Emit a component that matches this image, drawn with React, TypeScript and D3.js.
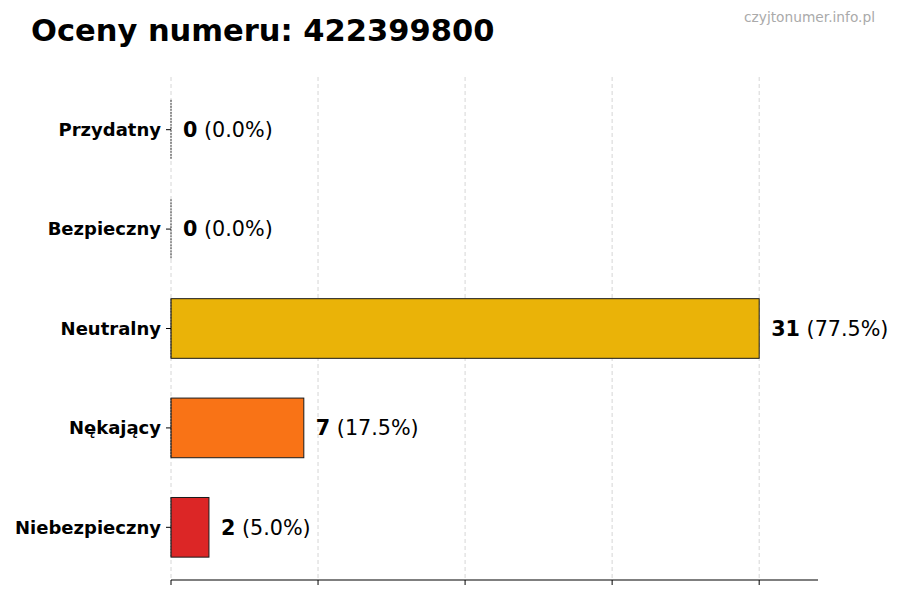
import React from "react";
import * as d3 from "d3";

const categories = ["Niebezpieczny", "Nękający", "Neutralny", "Bezpieczny", "Przydatny"];
const counts = [2, 7, 31, 0, 0];
const percents = ["5.0%", "17.5%", "77.5%", "0.0%", "0.0%"];
const colors = ["#DC2626", "#F97316", "#EAB308", "#3B82F6", "#22C55E"];
const titleText = "Oceny numeru: 422399800";
const watermark = "czyjtonumer.info.pl";

const W = 900, H = 600;
const left = 171, right = 818, top = 77, bottom = 580;

export default function App() {
  const maxV = d3.max(counts) as number;
  const x = d3.scaleLinear().domain([0, maxV * 1.1]).range([left, right]);
  const y = d3.scaleLinear().domain([-0.53, categories.length - 1 + 0.53]).range([bottom, top]);
  const ticks = [0, 0.25, 0.5, 0.75, 1].map((f) => f * maxV);
  const bh = y(0) - y(0.6);
  const font = "DejaVu Sans, sans-serif";
  return (
    <svg width={W} height={H} style={{ position: "absolute", left: 0, top: 0, background: "#fff" }} fontFamily={font}>
      <rect width={W} height={H} fill="#fff" />
      <text x={31} y={41} fontSize={30.5} fontWeight="bold" fill="#000">{titleText}</text>
      <text x={875} y={22} fontSize={14} fill="#aaaaaa" textAnchor="end" textLength={131} lengthAdjust="spacingAndGlyphs">{watermark}</text>
      {ticks.map((t, i) => (
        <g key={i}>
          <line x1={x(t)} x2={x(t)} y1={top} y2={bottom} stroke="#cccccc" strokeWidth={0.8} strokeDasharray="4,3" />
          <line x1={x(t)} x2={x(t)} y1={bottom} y2={bottom + 5} stroke="#000" strokeWidth={1} />
        </g>
      ))}
      <line x1={left} x2={right} y1={bottom} y2={bottom} stroke="#000" strokeWidth={1.2} />
      {categories.map((c, i) => {
        const cy = y(i);
        const x1 = x(counts[i]);
        return (
          <g key={c}>
            <rect x={left} y={cy - bh / 2} width={x1 - left} height={bh} fill={colors[i]} stroke="#1a1a1a" strokeWidth={1} />
            <line x1={left} x2={left} y1={cy - bh / 2} y2={cy + bh / 2} stroke="#333" strokeWidth={1} strokeDasharray="2,1" />
            <line x1={left - 5} x2={left} y1={cy} y2={cy} stroke="#000" strokeWidth={1} />
            <text x={left - 10} y={cy} dy="0.35em" textAnchor="end" fontSize={18} fontWeight="bold" fill="#000">{c}</text>
            <text x={x1 + 12} y={cy} dy="0.35em" fontSize={20.7} fill="#000">
              <tspan fontWeight="bold">{counts[i]}</tspan>
              <tspan> ({percents[i]})</tspan>
            </text>
          </g>
        );
      })}
    </svg>
  );
}
